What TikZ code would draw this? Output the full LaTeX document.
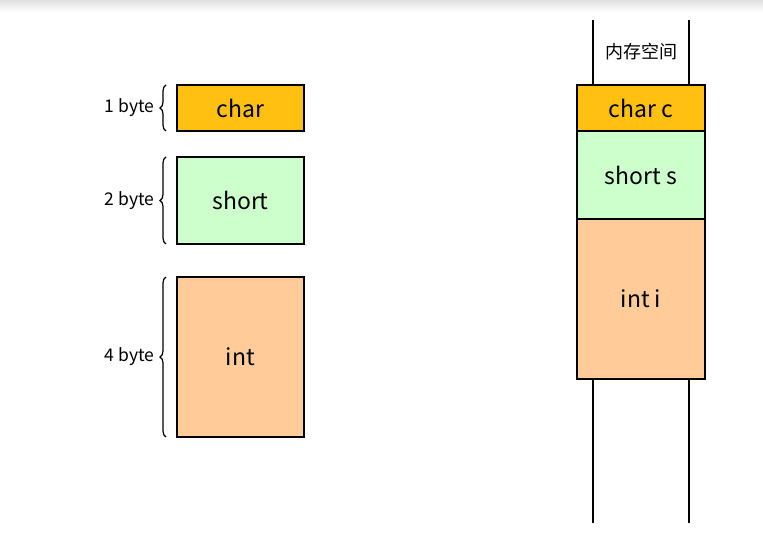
\documentclass[tikz,border=0pt]{standalone}
\usepackage{fontspec}
\setmainfont{Noto Sans CJK SC}
\usetikzlibrary{positioning,decorations.pathreplacing}
\definecolor{charcol}{HTML}{FFC012}
\definecolor{shortcol}{HTML}{CCFFCC}
\definecolor{intcol}{HTML}{FFCC99}
\begin{document}
\begin{tikzpicture}[x=1pt, y=-1pt]
                \tikzset{ box/.style={rectangle,draw,line width=1.6pt,minimum width=127pt,inner sep=0pt,outer sep=0pt,font=\fontsize{23}{27}\selectfont},
                        bytebrace/.style={decorate,decoration={brace,amplitude=6pt},line width=1.2pt},
                        sizelabel/.style={inner sep=0pt,font=\fontsize{17.5}{21}\selectfont},
                        memline/.style={line width=1.6pt}}
                \useasboundingbox (0,0) rectangle (763,534);
                \shade[top color=black!12, bottom color=white] (0,0) rectangle (763,12);

                % types
                \node[box, fill=charcol, minimum height=46pt] (char) at (240.5,108) {char};
                \node[box, fill=shortcol, minimum height=87pt, below=26pt of char] (short) {short};
                \node[box, fill=intcol, minimum height=160pt, below=33pt of short] (int) {int};

                % Accolades
                \draw[bytebrace] ([xshift=-11pt]char.south west) -- ([xshift=-11pt]char.north west) node[midway, sizelabel, left=11pt] (charsize) {1 byte};
                \draw[bytebrace] ([xshift=-11pt]short.south west) -- ([xshift=-11pt]short.north west) node[midway, sizelabel, left=11pt] (shortsize) {2 byte};
                \draw[bytebrace] ([xshift=-11pt]int.south west) -- ([xshift=-11pt]int.north west) node[midway, sizelabel, left=11pt] (intsize) {4 byte};

                % memoire
                \node[box, fill=charcol, minimum width=128pt, minimum height=46pt] (charc) at (641,108) {char c};
                \node[box, fill=shortcol, minimum width=128pt, minimum height=88pt, below=0pt of charc] (shorts) {short s};
                \node[box, fill=intcol, minimum width=128pt, minimum height=160pt, below=0pt of shorts] (inti) {int i};
                \node[font=\fontsize{18}{22}\selectfont] (mem) at (641,52) {内存空间};

                \coordinate (memtl) at (593,20);
                \coordinate (memtr) at (689,20);
                \coordinate (membl) at (593,523);
                \coordinate (membr) at (689,523);
                \draw[memline] (memtl) -- (memtl |- charc.north);
                \draw[memline] (memtr) -- (memtr |- charc.north);
                \draw[memline] (membl |- inti.south) -- (membl);
                \draw[memline] (membr |- inti.south) -- (membr);

            \end{tikzpicture}
\end{document}
